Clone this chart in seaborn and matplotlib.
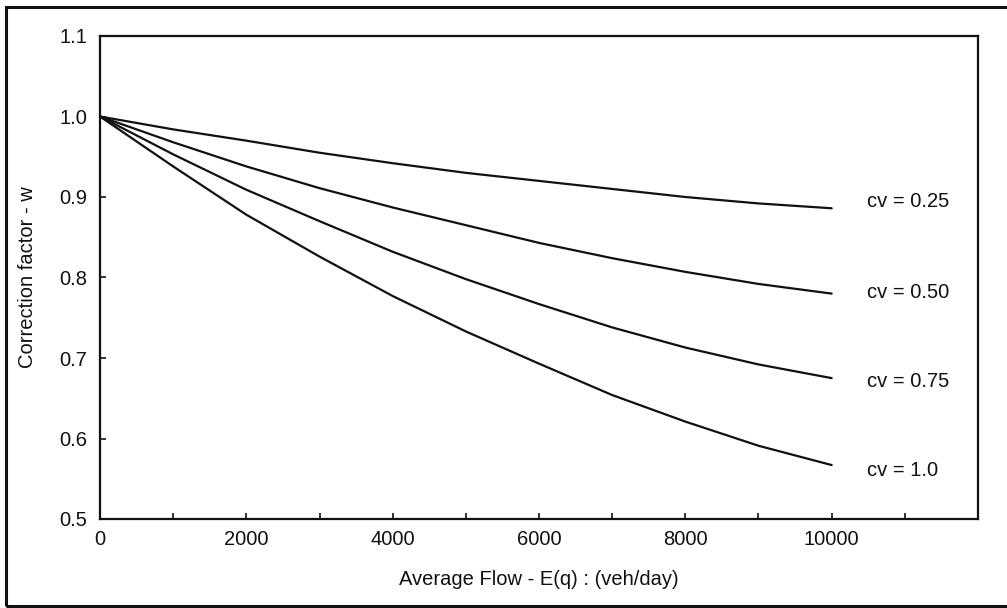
import numpy as np
import pandas as pd
import matplotlib
matplotlib.use("Agg")
import matplotlib.pyplot as plt
from matplotlib.ticker import MultipleLocator
from matplotlib.patches import Rectangle
import seaborn as sns

# Average flow E(q) in veh/day
flow = [0, 1000, 2000, 3000, 4000, 5000, 6000, 7000, 8000, 9000, 10000]

# Correction factor w for each coefficient of variation
w_cv025 = [1.000, 0.984, 0.970, 0.955, 0.942, 0.930, 0.920, 0.910, 0.900, 0.892, 0.886]
w_cv050 = [1.000, 0.968, 0.938, 0.911, 0.887, 0.865, 0.843, 0.824, 0.807, 0.792, 0.780]
w_cv075 = [1.000, 0.953, 0.909, 0.870, 0.832, 0.798, 0.767, 0.738, 0.713, 0.692, 0.675]
w_cv100 = [1.000, 0.938, 0.878, 0.826, 0.777, 0.733, 0.693, 0.654, 0.621, 0.591, 0.567]

series_labels = ["cv = 0.25", "cv = 0.50", "cv = 0.75", "cv = 1.0"]
series_values = [w_cv025, w_cv050, w_cv075, w_cv100]

x_major_ticks = [0, 2000, 4000, 6000, 8000, 10000]
y_ticks = [0.5, 0.6, 0.7, 0.8, 0.9, 1.0, 1.1]

df = pd.concat(
    [pd.DataFrame({"flow": flow, "w": vals, "cv": lab})
     for lab, vals in zip(series_labels, series_values)],
    ignore_index=True,
)

sns.set_theme(style="ticks")
plt.rcParams["font.family"] = ["Liberation Sans", "DejaVu Sans"]
plt.rcParams["axes.linewidth"] = 1.6

FS = 14.5
INK = "#111111"

fig = plt.figure(figsize=(10.07, 6.08), dpi=100)
ax = fig.add_axes([100 / 1007, 1 - 519 / 608, 878 / 1007, 483 / 608])

sns.lineplot(data=df, x="flow", y="w", hue="cv",
             palette=[INK] * 4, linewidth=1.6, legend=False, ax=ax)

ax.set_xlim(0, 12000)
ax.set_ylim(0.5, 1.1)
ax.set_xticks(x_major_ticks)
ax.set_xticklabels([str(t) for t in x_major_ticks])
ax.xaxis.set_minor_locator(MultipleLocator(1000))
ax.set_yticks(y_ticks)
ax.set_yticklabels([f"{t:.1f}" for t in y_ticks])

ax.tick_params(axis="both", which="both", direction="in", colors=INK,
               labelsize=FS, width=1.2)
ax.tick_params(axis="x", which="major", length=4, pad=8)
ax.tick_params(axis="x", which="minor", length=4)
ax.tick_params(axis="y", which="major", length=4, pad=9)

for sp in ax.spines.values():
    sp.set_color(INK)
    sp.set_visible(True)

ax.set_xlabel("Average Flow - E(q) : (veh/day)", fontsize=FS, labelpad=15,
              color=INK)
ax.set_ylabel("Correction factor - w", fontsize=FS, labelpad=16, color=INK)

# curve labels to the right of each curve's end, nudged vertically
label_nudge = [0.009, 0.001, -0.004, -0.007]
for lab, vals, dy in zip(series_labels, series_values, label_nudge):
    ax.text(flow[-1] + 480, vals[-1] + dy, lab, fontsize=FS,
            ha="left", va="center", color=INK)

# frame around the whole figure (right edge runs off the canvas)
fig.patches.append(Rectangle((6 / 1007, 2 / 608), 1.05, 1 - 9 / 608,
                             transform=fig.transFigure, fill=False,
                             edgecolor=INK, linewidth=2.2))

fig.savefig("out.png", dpi=100, facecolor="white")
